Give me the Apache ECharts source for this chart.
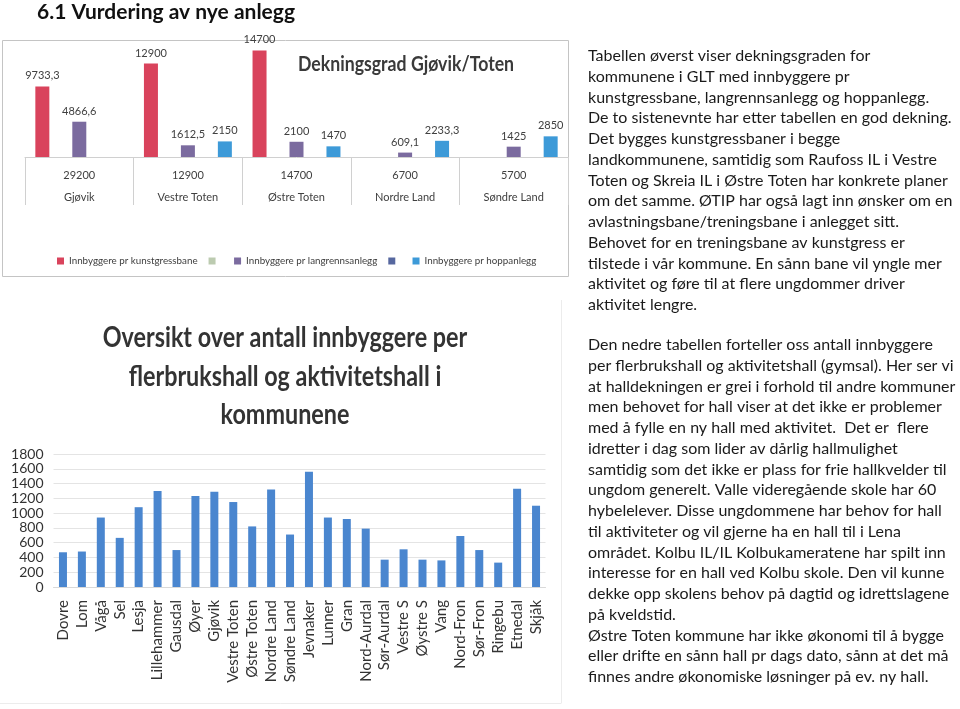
<!DOCTYPE html>
<html><head><meta charset="utf-8">
<script src="https://cdn.jsdelivr.net/npm/echarts@6/dist/echarts.min.js"></script>
<style>html,body{margin:0;padding:0;background:#fff}#c{width:960px;height:709px}</style>
</head><body><div id="c"></div>
<script>
// ---------- data: top chart ----------
const topCategories = ['Gjøvik', 'Vestre Toten', 'Østre Toten', 'Nordre Land', 'Søndre Land'];
const topPopulation = [29200, 12900, 14700, 6700, 5700];
const perKunstgress = [9733.3, 12900, 14700, null, null];
const perLangrenn = [4866.6, 1612.5, 2100, 609.1, 1425];
const perHopp = [null, 2150, 1470, 2233.3, 2850];
const topSeriesNames = ['Innbyggere pr kunstgressbane', ' ', 'Innbyggere pr langrennsanlegg', '\u2009', 'Innbyggere pr hoppanlegg'];

// ---------- data: bottom chart ----------
const hallCategories = ['Dovre', 'Lom', 'Vågå', 'Sel', 'Lesja', 'Lillehammer', 'Gausdal', 'Øyer', 'Gjøvik',
  'Vestre Toten', 'Østre Toten', 'Nordre Land', 'Søndre Land', 'Jevnaker', 'Lunner', 'Gran', 'Nord-Aurdal',
  'Sør-Aurdal', 'Vestre S', 'Øystre S', 'Vang', 'Nord-Fron', 'Sør-Fron', 'Ringebu', 'Etnedal', 'Skjåk'];
const hallValues = [470, 480, 940, 665, 1080, 1300, 500, 1230, 1290, 1150, 820, 1320, 710, 1560, 940, 920, 790,
  370, 510, 370, 360, 690, 500, 330, 1330, 1100];
const hallTickLabels = ['0', '200', '400', '600', '800', '1000', '1200', '1400', '1600', '1800'];

// ---------- texts ----------
const pageHeading = '6.1 Vurdering av nye anlegg';
const topTitle = 'Dekningsgrad Gjøvik/Toten';
const bottomTitleLines = ['Oversikt over antall innbyggere per', 'flerbrukshall og aktivitetshall i', 'kommunene'];
const bodyText1 = [
  'Tabellen øverst viser dekningsgraden for',
  'kommunene i GLT med innbyggere pr',
  'kunstgressbane, langrennsanlegg og hoppanlegg.',
  'De to sistenevnte har etter tabellen en god dekning.',
  'Det bygges kunstgressbaner i begge',
  'landkommunene, samtidig som Raufoss IL i Vestre',
  'Toten og Skreia IL i Østre Toten har konkrete planer',
  'om det samme. ØTIP har også lagt inn ønsker om en',
  'avlastningsbane/treningsbane i anlegget sitt.',
  'Behovet for en treningsbane av kunstgress er',
  'tilstede i vår kommune. En sånn bane vil yngle mer',
  'aktivitet og føre til at flere ungdommer driver',
  'aktivitet lengre.'
];
const bodyText2 = [
  'Den nedre tabellen forteller oss antall innbyggere',
  'per flerbrukshall og aktivitetshall (gymsal). Her ser vi',
  'at halldekningen er grei i forhold til andre kommuner',
  'men behovet for hall viser at det ikke er problemer',
  'med å fylle en ny hall med aktivitet.  Det er  flere',
  'idretter i dag som lider av dårlig hallmulighet',
  'samtidig som det ikke er plass for frie hallkvelder til',
  'ungdom generelt. Valle videregående skole har 60',
  'hybelelever. Disse ungdommene har behov for hall',
  'til aktiviteter og vil gjerne ha en hall til i Lena',
  'området. Kolbu IL/IL Kolbukameratene har spilt inn',
  'interesse for en hall ved Kolbu skole. Den vil kunne',
  'dekke opp skolens behov på dagtid og idrettslagene',
  'på kveldstid.',
  'Østre Toten kommune har ikke økonomi til å bygge',
  'eller drifte en sånn hall pr dags dato, sånn at det må',
  'finnes andre økonomiske løsninger på ev. ny hall.'
];

const FONT = 'Lato, "Open Sans", sans-serif';
const chart = echarts.init(document.getElementById('c'));
const fmt = p => String(p.value).replace('.', ',');
const barLabel = { show: true, position: 'top', distance: 5, fontSize: 11, fontFamily: FONT, color: '#404040', formatter: fmt };

chart.setOption({
  backgroundColor: '#fff',
  animation: false,
  textStyle: { fontFamily: FONT },
  legend: {
    left: 52, top: 251, itemWidth: 7, itemHeight: 7, itemGap: 11, icon: 'rect',
    textStyle: { fontSize: 9.8, color: '#404040', fontFamily: FONT },
    data: topSeriesNames
  },
  grid: [
    { left: 25, width: 543, top: 41, height: 116 },
    { left: 53.5, width: 492, top: 454, height: 133 }
  ],
  xAxis: [
    {
      gridIndex: 0, type: 'category', data: topCategories,
      axisLine: { lineStyle: { color: '#d0d0d0' } },
      axisTick: { show: true, length: 48, lineStyle: { color: '#d0d0d0' } },
      axisLabel: {
        margin: 7, interval: 0,
        formatter: (v, i) => '{v|' + topPopulation[i] + '}\n{n|' + v + '}',
        rich: {
          v: { fontSize: 11, lineHeight: 22, color: '#404040', fontFamily: FONT },
          n: { fontSize: 11, lineHeight: 22, color: '#404040', fontFamily: FONT }
        }
      }
    },
    {
      gridIndex: 1, type: 'category', data: hallCategories,
      axisLine: { lineStyle: { color: '#d9d9d9' } },
      axisTick: { show: false },
      axisLabel: { rotate: 90, interval: 0, margin: 13, fontSize: 15, color: '#333', fontFamily: FONT }
    }
  ],
  yAxis: [
    { gridIndex: 0, type: 'value', min: 0, max: 16000, show: false },
    {
      gridIndex: 1, type: 'value', min: 0, max: 1800, interval: 200,
      axisLine: { show: false }, axisTick: { show: false },
      splitLine: { lineStyle: { color: '#e4e4e4' } },
      axisLabel: { margin: 10, fontSize: 14, lineHeight: 11, padding: 0, color: '#333', fontFamily: FONT,
        showMinLabel: true, showMaxLabel: true, hideOverlap: false,
        formatter: (v) => hallTickLabels[Math.round(v / 200)] }
    }
  ],
  series: [
    { name: topSeriesNames[0], type: 'bar', stack: 'a', xAxisIndex: 0, yAxisIndex: 0, barWidth: 14, barGap: '164%',
      itemStyle: { color: '#d9435c' }, label: barLabel, data: perKunstgress },
    { name: topSeriesNames[1], type: 'bar', stack: 'a', xAxisIndex: 0, yAxisIndex: 0, barWidth: 14,
      itemStyle: { color: '#bccbb0' }, data: [] },
    { name: topSeriesNames[2], type: 'bar', stack: 'b', xAxisIndex: 0, yAxisIndex: 0, barWidth: 14,
      itemStyle: { color: '#7b6b9f' }, label: barLabel, data: perLangrenn },
    { name: topSeriesNames[3], type: 'bar', stack: 'b', xAxisIndex: 0, yAxisIndex: 0, barWidth: 14,
      itemStyle: { color: '#56679f' }, data: [] },
    { name: topSeriesNames[4], type: 'bar', xAxisIndex: 0, yAxisIndex: 0, barWidth: 14,
      itemStyle: { color: '#3d9ad8' }, label: barLabel, data: perHopp },
    { name: 'Innbyggere per hall', type: 'bar', xAxisIndex: 1, yAxisIndex: 1, barWidth: 8,
      itemStyle: { color: '#4a86cf' }, data: hallValues }
  ],
  graphic: [
    { type: 'rect', shape: { x: 2.5, y: 40.5, width: 566, height: 236 }, style: { fill: 'none', stroke: '#c4c4c4', lineWidth: 1 }, z: -1 },
    { type: 'line', shape: { x1: 561.5, y1: 300, x2: 561.5, y2: 703 }, style: { stroke: '#ececec', lineWidth: 1 }, z: -1 },
    { type: 'line', shape: { x1: 0, y1: 703.5, x2: 561.5, y2: 703.5 }, style: { stroke: '#ececec', lineWidth: 1 }, z: -1 },
    { type: 'text', x: 37, y: 12, style: { text: pageHeading, fontSize: 21, fontWeight: 'bold', fontFamily: FONT, fill: '#111', verticalAlign: 'middle' } },
    { type: 'text', x: 298, y: 65, scaleX: 0.885, style: { text: topTitle, fontSize: 20, fontWeight: 'bold', fontFamily: FONT, fill: '#3a3a3a', verticalAlign: 'middle' } },
    { type: 'text', x: 285, y: 338, scaleX: 0.805, style: { text: bottomTitleLines[0], fontSize: 29, fontWeight: 'bold', fontFamily: FONT, fill: '#333', align: 'center', verticalAlign: 'middle' } },
    { type: 'text', x: 285, y: 377, scaleX: 0.805, style: { text: bottomTitleLines[1], fontSize: 29, fontWeight: 'bold', fontFamily: FONT, fill: '#333', align: 'center', verticalAlign: 'middle' } },
    { type: 'text', x: 285, y: 415, scaleX: 0.805, style: { text: bottomTitleLines[2], fontSize: 29, fontWeight: 'bold', fontFamily: FONT, fill: '#333', align: 'center', verticalAlign: 'middle' } },
    { type: 'text', x: 588, y: 45.6, style: { text: bodyText1.join('\n'), fontSize: 16, lineHeight: 20.75, fontFamily: FONT, fill: '#1a1a1a', verticalAlign: 'top' } },
    { type: 'text', x: 588, y: 334.6, style: { text: bodyText2.join('\n'), fontSize: 16, lineHeight: 20.75, fontFamily: FONT, fill: '#1a1a1a', verticalAlign: 'top' } }
  ]
});
</script></body></html>
